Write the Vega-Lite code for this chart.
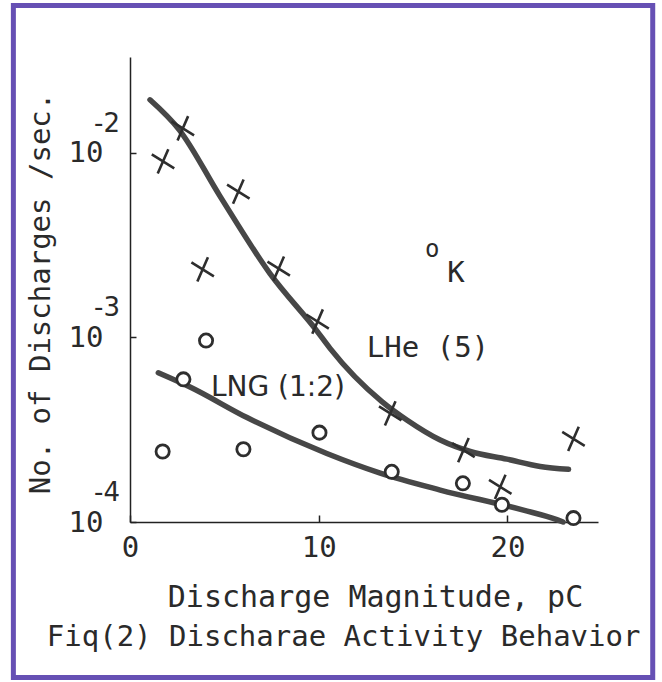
{
  "$schema": "https://vega.github.io/schema/vega-lite/v6.json",
  "width": 468,
  "height": 465,
  "autosize": {"type": "none"},
  "padding": {"left": 130, "top": 57, "right": 64, "bottom": 160},
  "background": "white",
  "config": {"view": {"stroke": null}, "font": "DejaVu Sans Mono"},
  "datasets": {
    "points": [
      {"series": "LHe", "q": 1.75, "rate": 0.0090},
      {"series": "LHe", "q": 2.8, "rate": 0.0136},
      {"series": "LHe", "q": 5.74, "rate": 0.00617},
      {"series": "LHe", "q": 3.85, "rate": 0.00234},
      {"series": "LHe", "q": 7.88, "rate": 0.00236},
      {"series": "LHe", "q": 9.94, "rate": 0.00122},
      {"series": "LHe", "q": 13.79, "rate": 0.000388},
      {"series": "LHe", "q": 17.67, "rate": 0.000245},
      {"series": "LHe", "q": 19.62, "rate": 0.000155},
      {"series": "LHe", "q": 23.5, "rate": 0.000282},
      {"series": "LNG", "q": 4.03, "rate": 0.000962},
      {"series": "LNG", "q": 2.83, "rate": 0.000593},
      {"series": "LNG", "q": 1.73, "rate": 0.000241},
      {"series": "LNG", "q": 6.01, "rate": 0.000248},
      {"series": "LNG", "q": 10.04, "rate": 0.000305},
      {"series": "LNG", "q": 13.87, "rate": 0.000187},
      {"series": "LNG", "q": 17.64, "rate": 0.000162},
      {"series": "LNG", "q": 19.71, "rate": 0.000124},
      {"series": "LNG", "q": 23.5, "rate": 0.000105}
    ],
    "curves": [
      {"series": "LHe", "q": 1.06, "rate": 0.0194},
      {"series": "LHe", "q": 2.62, "rate": 0.0133},
      {"series": "LHe", "q": 4.75, "rate": 0.00587},
      {"series": "LHe", "q": 7.43, "rate": 0.00221},
      {"series": "LHe", "q": 9.89, "rate": 0.00109},
      {"series": "LHe", "q": 10.6, "rate": 0.000873},
      {"series": "LHe", "q": 13.35, "rate": 0.000449},
      {"series": "LHe", "q": 14.67, "rate": 0.000357},
      {"series": "LHe", "q": 16.44, "rate": 0.000278},
      {"series": "LHe", "q": 18.03, "rate": 0.000241},
      {"series": "LHe", "q": 19.97, "rate": 0.000219},
      {"series": "LHe", "q": 21.74, "rate": 0.000200},
      {"series": "LHe", "q": 23.24, "rate": 0.000193},
      {"series": "LNG", "q": 1.5, "rate": 0.000644},
      {"series": "LNG", "q": 3.18, "rate": 0.000539},
      {"series": "LNG", "q": 6.2, "rate": 0.000368},
      {"series": "LNG", "q": 10.43, "rate": 0.000235},
      {"series": "LNG", "q": 13.26, "rate": 0.000184},
      {"series": "LNG", "q": 16.44, "rate": 0.000149},
      {"series": "LNG", "q": 20.85, "rate": 0.000116},
      {"series": "LNG", "q": 22.62, "rate": 0.000103},
      {"series": "LNG", "q": 22.95, "rate": 0.000100}
    ],
    "exponents": [
      {"v": 0.01, "exp": "-2"},
      {"v": 0.001, "exp": "-3"},
      {"v": 0.0001, "exp": "-4"}
    ],
    "monoNotes": [
      {"q": 12.55, "rate": 0.000787, "note": "LHe (5)"},
      {"q": 16.81, "rate": 0.0020, "note": "K"}
    ],
    "sansNotes": [
      {"q": 4.29, "rate": 0.000482, "note": "LNG (1:2)"}
    ],
    "smallNotes": [
      {"q": 16.01, "rate": 0.00273, "note": "o"}
    ],
    "caption": [
      {"text": "Fiq(2) Discharae Activity Behavior"}
    ]
  },
  "layer": [
    {
      "data": {"name": "curves"},
      "mark": {"type": "line", "color": "#474747", "strokeWidth": 5.5, "interpolate": "monotone", "strokeCap": "round"},
      "encoding": {
        "x": {
          "field": "q", "type": "quantitative",
          "scale": {"domain": [0, 24.8], "nice": false, "zero": false},
          "axis": {
            "values": [0, 10, 20],
            "title": "Discharge Magnitude, pC",
            "titleFont": "DejaVu Sans Mono", "titleFontSize": 30, "titleFontWeight": "normal",
            "titleColor": "#2a2a2a", "titleX": 245, "titlePadding": 20,
            "labelFont": "DejaVu Sans Mono", "labelFontSize": 29, "labelColor": "#2a2a2a",
            "labelPadding": 18, "labelFlush": false, "labelOverlap": false,
            "tickSize": -7, "tickColor": "#222", "tickWidth": 1.5,
            "domainColor": "#222", "domainWidth": 1.5, "grid": false
          }
        },
        "y": {
          "field": "rate", "type": "quantitative",
          "scale": {"type": "log", "domain": [0.0001, 0.0331], "nice": false},
          "axis": {
            "values": [0.0001, 0.001, 0.01],
            "labelExpr": "'10'",
            "title": "No. of Discharges /sec.",
            "titleFont": "DejaVu Sans Mono", "titleFontSize": 29, "titleFontWeight": "normal",
            "titleColor": "#2a2a2a", "titleY": 236, "titlePadding": 13,
            "labelFont": "DejaVu Sans Mono", "labelFontSize": 29, "labelColor": "#2a2a2a",
            "labelPadding": 33, "labelFlush": false, "labelOverlap": false,
            "tickSize": -6, "tickColor": "#222", "tickWidth": 1.5,
            "domainColor": "#222", "domainWidth": 1.5, "grid": false
          }
        },
        "detail": {"field": "series", "type": "nominal"}
      }
    },
    {
      "data": {"name": "points"},
      "transform": [{"filter": "datum.series === 'LHe'"}],
      "mark": {"type": "point", "shape": "M-0.85,-0.53L0.85,0.53M-0.4,0.92L0.4,-0.92", "size": 700, "filled": false, "stroke": "#2e2e2e", "strokeWidth": 2.6, "opacity": 1},
      "encoding": {
        "x": {"field": "q", "type": "quantitative"},
        "y": {"field": "rate", "type": "quantitative"}
      }
    },
    {
      "data": {"name": "points"},
      "transform": [{"filter": "datum.series === 'LNG'"}],
      "mark": {"type": "point", "shape": "circle", "size": 175, "filled": true, "fill": "white", "stroke": "#2e2e2e", "strokeWidth": 2.8, "opacity": 1},
      "encoding": {
        "x": {"field": "q", "type": "quantitative"},
        "y": {"field": "rate", "type": "quantitative"}
      }
    },
    {
      "data": {"name": "exponents"},
      "mark": {"type": "text", "font": "DejaVu Sans", "fontSize": 26, "align": "right", "baseline": "alphabetic", "dx": -10, "dy": -21, "color": "#2a2a2a"},
      "encoding": {
        "x": {"datum": 0, "type": "quantitative"},
        "y": {"field": "v", "type": "quantitative"},
        "text": {"field": "exp"}
      }
    },
    {
      "data": {"name": "monoNotes"},
      "mark": {"type": "text", "font": "DejaVu Sans Mono", "fontSize": 29, "align": "left", "baseline": "alphabetic", "color": "#2a2a2a"},
      "encoding": {
        "x": {"field": "q", "type": "quantitative"},
        "y": {"field": "rate", "type": "quantitative"},
        "text": {"field": "note"}
      }
    },
    {
      "data": {"name": "sansNotes"},
      "mark": {"type": "text", "font": "DejaVu Sans", "fontSize": 28, "align": "left", "baseline": "alphabetic", "color": "#2a2a2a"},
      "encoding": {
        "x": {"field": "q", "type": "quantitative"},
        "y": {"field": "rate", "type": "quantitative"},
        "text": {"field": "note"}
      }
    },
    {
      "data": {"name": "smallNotes"},
      "mark": {"type": "text", "font": "DejaVu Sans Mono", "fontSize": 24, "align": "center", "baseline": "alphabetic", "color": "#2a2a2a"},
      "encoding": {
        "x": {"field": "q", "type": "quantitative"},
        "y": {"field": "rate", "type": "quantitative"},
        "text": {"field": "note"}
      }
    },
    {
      "data": {"name": "caption"},
      "mark": {"type": "text", "font": "DejaVu Sans Mono", "fontSize": 29, "align": "center", "baseline": "alphabetic", "color": "#2a2a2a"},
      "encoding": {
        "x": {"datum": 11.32, "type": "quantitative"},
        "y": {"datum": 0.00002128, "type": "quantitative"},
        "text": {"field": "text"}
      }
    },
    {
      "data": {"values": [{}]},
      "mark": {"type": "rect", "fill": null, "fillOpacity": 0, "stroke": "#6650b4", "strokeWidth": 5},
      "encoding": {
        "x": {"datum": -6.18, "type": "quantitative"},
        "x2": {"datum": 27.7},
        "y": {"datum": 0.063, "type": "quantitative"},
        "y2": {"datum": 0.00001436}
      }
    }
  ]
}
